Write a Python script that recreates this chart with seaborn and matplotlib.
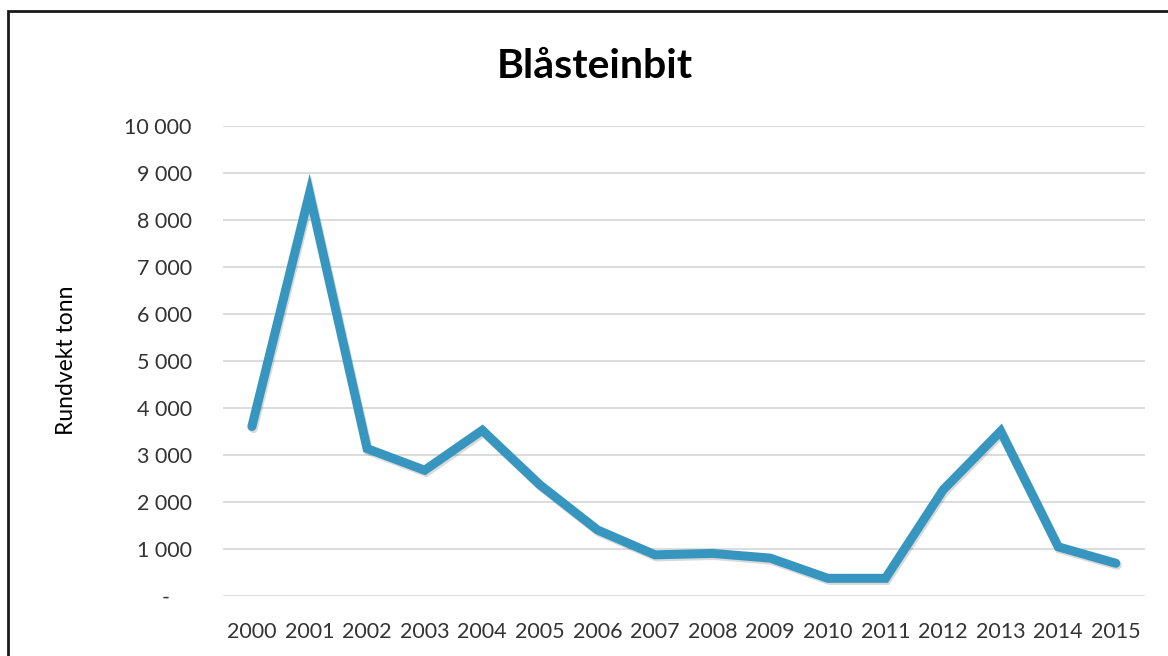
import pandas as pd
import seaborn as sns
import matplotlib.pyplot as plt
import matplotlib.patheffects as pe
from matplotlib.patches import Rectangle

# Data
years = [2000, 2001, 2002, 2003, 2004, 2005, 2006, 2007,
         2008, 2009, 2010, 2011, 2012, 2013, 2014, 2015]
tonn = [3600, 8560, 3130, 2670, 3520, 2360, 1400, 870,
        900, 800, 370, 370, 2250, 3500, 1040, 690]
y_ticks = [0, 1000, 2000, 3000, 4000, 5000, 6000, 7000, 8000, 9000, 10000]

df = pd.DataFrame({'pos': range(len(years)), 'År': years, 'Rundvekt tonn': tonn})

sns.set_theme(style="white")
plt.rcParams['font.family'] = ['Lato', 'DejaVu Sans']

fig = plt.figure(figsize=(11.68, 6.56), dpi=100)
ax = fig.add_axes([0.191, 0.0919, 0.789, 0.7165])

sns.lineplot(data=df, x='pos', y='Rundvekt tonn', color='#3796BF', linewidth=6.5,
             ax=ax, solid_joinstyle='miter', solid_capstyle='round',
             path_effects=[pe.SimpleLineShadow(offset=(1, -1.5), shadow_color='black', alpha=0.15),
                           pe.Normal()])

ax.set_xlim(-0.5, len(years) - 0.5)
ax.set_ylim(0, 10000)
ax.set_xticks(range(len(years)))
ax.set_xticklabels([str(y) for y in years])
ax.set_yticks(y_ticks)
ax.set_yticklabels([f"{v:,}".replace(",", " ") if v else "-    " for v in y_ticks])
ax.tick_params(axis='both', length=0, labelsize=15.5, labelcolor='#333333')
ax.tick_params(axis='y', pad=22.5)
ax.tick_params(axis='x', pad=19)

ax.grid(axis='y', color='#D9D9D9', linewidth=1.3)
ax.grid(axis='x', visible=False)
for s in ax.spines.values():
    s.set_visible(False)

ax.set_xlabel('')
ax.set_ylabel('Rundvekt tonn', fontsize=16.5, color='#000000', labelpad=0)
ax.yaxis.set_label_coords(-0.159, 0.5)

fig.text(0.509, 0.898, 'Blåsteinbit', ha='center', va='center', fontsize=29.5,
         fontweight='bold', color='black')

# chart frame (Excel border, cut off on the right and bottom)
fig.patches.append(Rectangle((8 / 1168, -0.1), 1.2, 1 - 11 / 656 + 0.1,
                             transform=fig.transFigure, fill=False,
                             edgecolor='#1a1a1a', linewidth=2))

fig.savefig('out.png', dpi=100)
